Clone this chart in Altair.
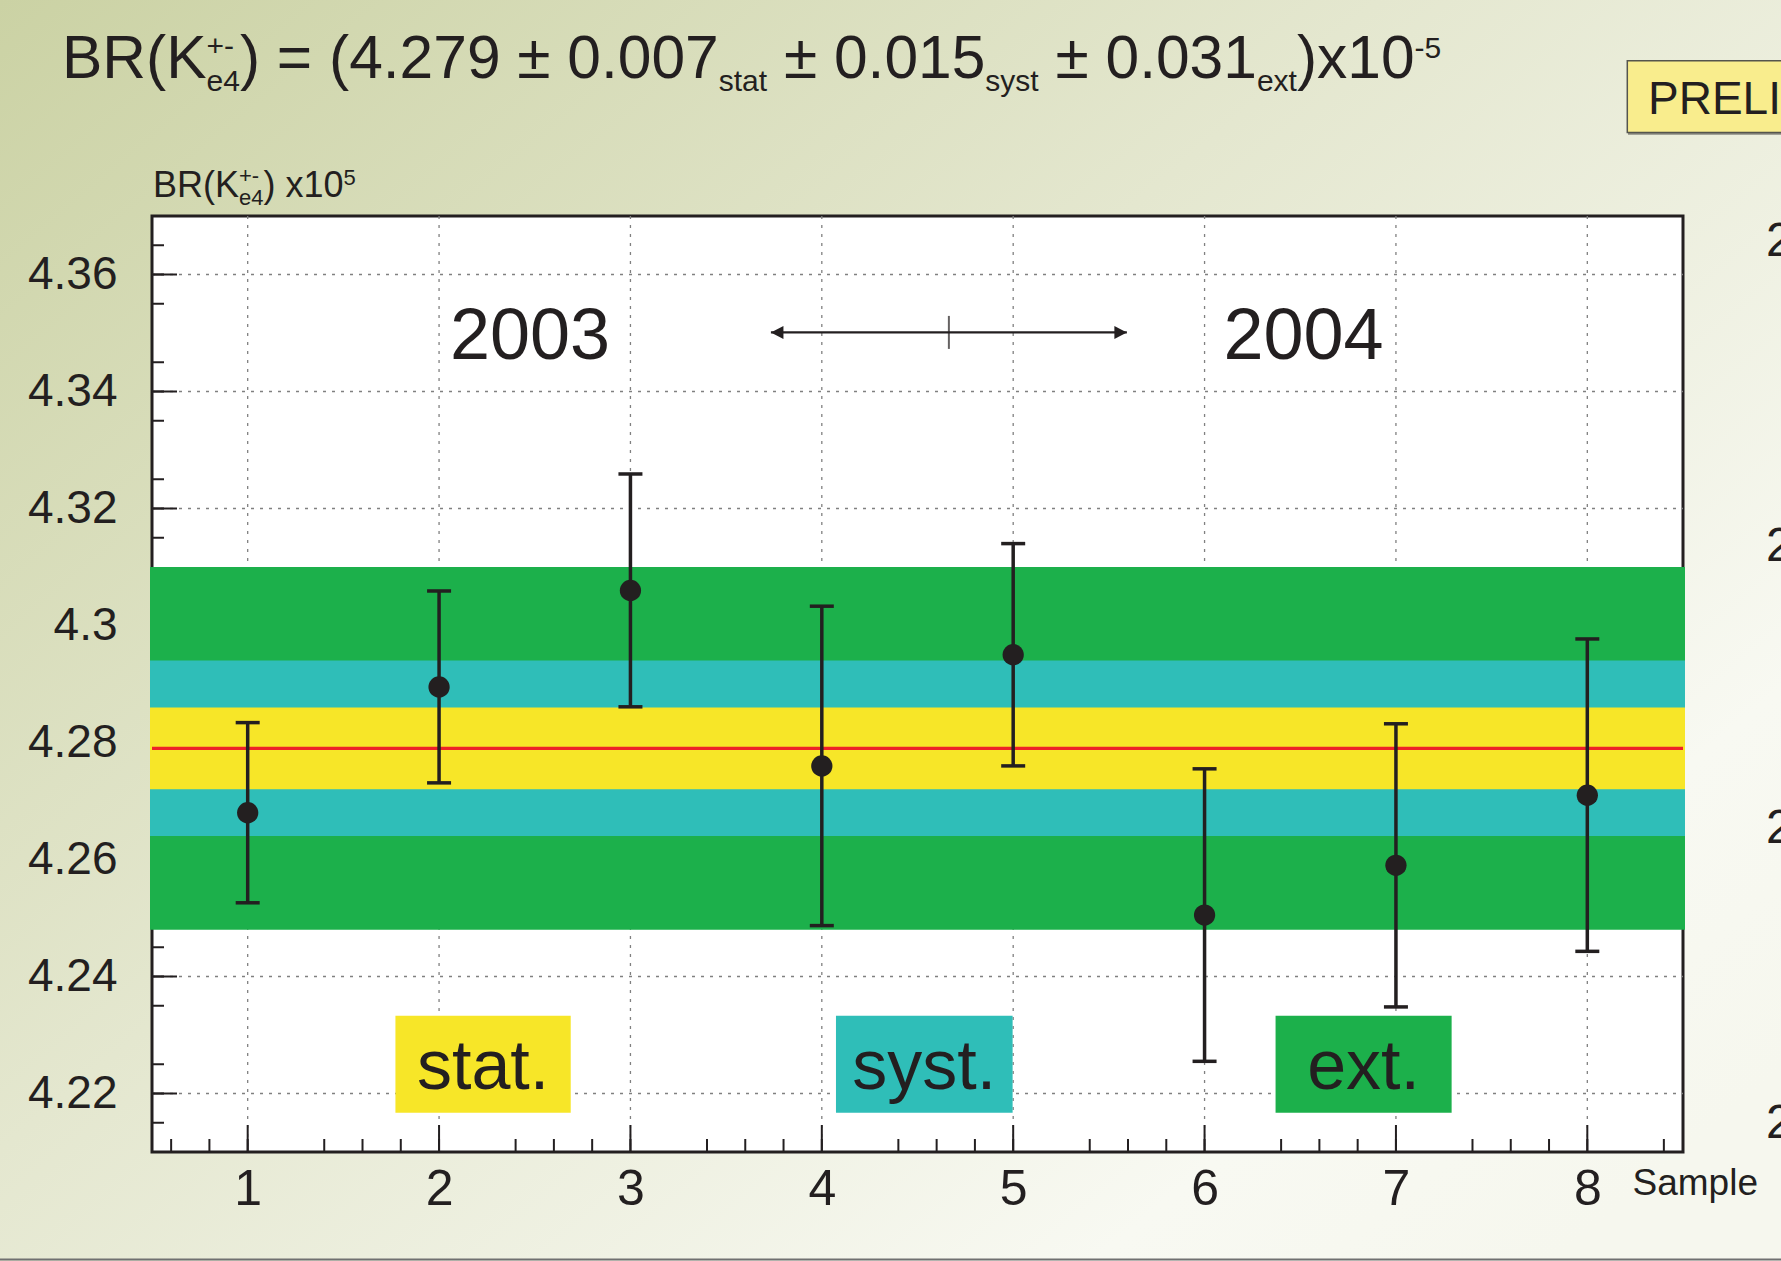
import altair as alt
import pandas as pd

# ---------------------------------------------------------------- data
samples = [1, 2, 3, 4, 5, 6, 7, 8]
br_values = [4.268, 4.2895, 4.306, 4.276, 4.295, 4.2505, 4.259, 4.271]
br_errors = [0.0154, 0.0164, 0.0199, 0.0273, 0.019, 0.025, 0.0242, 0.0267]

# combined result: central value and its three uncertainties
br_central = 4.279
band_names = ["ext.", "syst.", "stat."]
band_half_widths = [0.031, 0.015, 0.007]
band_colors = ["#1cb04b", "#2fbeb8", "#f7e628"]

# legend boxes, years and the 2003 / 2004 divider (sample-axis units)
legend_labels = ["stat.", "syst.", "ext."]
legend_left = [1.772, 4.074, 6.371]
legend_right = [2.688, 4.997, 7.291]
legend_bottom, legend_top, legend_text_y = 4.2167, 4.2333, 4.2208
years = ["2003", "2004"]
year_x = [2.475, 6.517]
year_y = 4.3456
arrow_ends = [3.734, 5.594]
arrow_mid = 4.664
arrow_y = 4.3501

# axes
x_major = [1, 2, 3, 4, 5, 6, 7, 8]
x_minor = [round(0.6 + 0.2 * i, 1) for i in range(40) if (i + 2) % 5 != 0]
y_major = [4.22, 4.24, 4.26, 4.28, 4.30, 4.32, 4.34, 4.36]
y_minor = [round(4.215 + 0.005 * i, 3) for i in range(31) if (i + 1) % 4 != 0]

# ---------------------------------------------------------------- style
FONT = "Liberation Sans"
INK = "#231f20"
W, H = 1531, 936
PAD = {"left": 152, "top": 216, "right": 98, "bottom": 109}

xs = alt.Scale(domain=[0.5, 8.5], nice=False, zero=False)
ys = alt.Scale(domain=[4.21, 4.37], nice=False, zero=False)
x_axis = alt.Axis(values=x_major, format="d", title=None, grid=False, ticks=False,
                  tickSize=0, domain=False, labelFont=FONT, labelFontSize=50,
                  labelColor=INK, labelPadding=52, labelBaseline="alphabetic",
                  labelFlush=False, zindex=1)
y_axis = alt.Axis(values=y_major, format=".2~f", title=None, grid=False, ticks=False,
                  tickSize=0, domain=False, labelFont=FONT, labelFontSize=46,
                  labelColor=INK, labelPadding=35, labelFlush=False, zindex=1)


def X(field):
    return alt.X(field, scale=xs, axis=x_axis)


def Y(field):
    return alt.Y(field, scale=ys, axis=y_axis)


one = pd.DataFrame({"k": [0]})

# ------------------------------------------------------- page furniture
page_bg = alt.Chart(one).mark_rect(
    color=alt.LinearGradient(
        gradient="linear", x1=0, y1=0, x2=1, y2=0.85,
        stops=[alt.GradientStop(color="#cbd2a4", offset=0),
               alt.GradientStop(color="#e4e7cf", offset=0.45),
               alt.GradientStop(color="#f8f9f2", offset=0.85),
               alt.GradientStop(color="#f6f7ee", offset=1)])
).encode(x=alt.value(-PAD["left"]), x2=alt.value(W + PAD["right"]),
         y=alt.value(-PAD["top"]), y2=alt.value(H + PAD["bottom"]))

bottom_line = alt.Chart(one).mark_rule(color="#707070", strokeWidth=2).encode(
    x=alt.value(-PAD["left"]), x2=alt.value(W + PAD["right"]), y=alt.value(1043.5))

prelim_shadow = alt.Chart(one).mark_rule(color="#8a8a80", strokeWidth=2.5).encode(
    x=alt.value(1476), x2=alt.value(1700), y=alt.value(-82.5))
prelim_box = alt.Chart(one).mark_rect(fill="#f9ed8d", stroke="#55554d", strokeWidth=1.5).encode(
    x=alt.value(1475.3), x2=alt.value(1700), y=alt.value(-155.3), y2=alt.value(-83.5))

frame = alt.Chart(one).mark_rect(fill="white", stroke=INK, strokeWidth=3).encode(
    x=alt.value(0), x2=alt.value(W), y=alt.value(0), y2=alt.value(H))

grid_kw = dict(color="#808080", strokeWidth=1.3, strokeDash=[3, 6])
grid_x = alt.Chart(pd.DataFrame({"v": x_major})).mark_rule(**grid_kw).encode(
    x=X("v:Q"), y=alt.value(0), y2=alt.value(H))
grid_y = alt.Chart(pd.DataFrame({"v": y_major})).mark_rule(**grid_kw).encode(
    y=Y("v:Q"), x=alt.value(0), x2=alt.value(W))

tick_kw = dict(color=INK, strokeWidth=2)
ticks = [
    alt.Chart(pd.DataFrame({"v": y_major})).mark_rule(**tick_kw).encode(
        y=Y("v:Q"), x=alt.value(0), x2=alt.value(25)),
    alt.Chart(pd.DataFrame({"v": y_minor})).mark_rule(**tick_kw).encode(
        y=Y("v:Q"), x=alt.value(0), x2=alt.value(12)),
    alt.Chart(pd.DataFrame({"v": x_major})).mark_rule(**tick_kw).encode(
        x=X("v:Q"), y=alt.value(H), y2=alt.value(H - 27)),
    alt.Chart(pd.DataFrame({"v": x_minor})).mark_rule(**tick_kw).encode(
        x=X("v:Q"), y=alt.value(H), y2=alt.value(H - 13)),
]

# ------------------------------------------------- uncertainty bands
band_scale = alt.Scale(domain=band_names, range=band_colors)
bands = alt.Chart(pd.DataFrame({"band": band_names, "half": band_half_widths})).transform_calculate(
    lo=f"{br_central} - datum.half", hi=f"{br_central} + datum.half"
).mark_rect().encode(
    x=alt.value(-2), x2=alt.value(W + 2), y=Y("lo:Q"), y2="hi:Q",
    color=alt.Color("band:N", scale=band_scale, legend=None))

central = alt.Chart(pd.DataFrame({"c": [br_central]})).mark_rule(
    color="#ee2227", strokeWidth=3.4).encode(y=Y("c:Q"), x=alt.value(0), x2=alt.value(W))

# ------------------------------------------------------------ legend
legend_df = pd.DataFrame({"band": legend_labels, "x0": legend_left, "x1": legend_right})
legend_boxes = alt.Chart(legend_df).transform_calculate(
    y0=str(legend_bottom), y1=str(legend_top)
).mark_rect().encode(
    x=X("x0:Q"), x2="x1:Q", y=Y("y0:Q"), y2="y1:Q",
    color=alt.Color("band:N", scale=band_scale, legend=None))
legend_text = alt.Chart(legend_df).transform_calculate(
    xc="(datum.x0 + datum.x1) / 2", yt=str(legend_text_y)
).mark_text(font=FONT, fontSize=70, color=INK, align="center", baseline="alphabetic").encode(
    x=X("xc:Q"), y=Y("yt:Q"), text="band:N")

# ------------------------------------------------- years and divider
year_text = alt.Chart(pd.DataFrame({"year": years, "x": year_x})).transform_calculate(
    y=str(year_y)
).mark_text(font=FONT, fontSize=72, color=INK, align="center", baseline="alphabetic").encode(
    x=X("x:Q"), y=Y("y:Q"), text="year:N")

arrow_df = pd.DataFrame({"x0": [arrow_ends[0]], "x1": [arrow_ends[1]], "xm": [arrow_mid], "y": [arrow_y]})
arrow_line = alt.Chart(arrow_df).mark_rule(color=INK, strokeWidth=2.2).encode(
    x=X("x0:Q"), x2="x1:Q", y=Y("y:Q"))
arrow_tick = alt.Chart(arrow_df).mark_tick(color=INK, orient="vertical", size=33, thickness=2).encode(
    x=X("xm:Q"), y=Y("y:Q"))
head_kw = dict(color=INK, filled=True, opacity=1, size=625, strokeWidth=0)
arrow_left = alt.Chart(arrow_df).mark_point(shape="M0,0L1,-0.52L1,0.52Z", **head_kw).encode(
    x=X("x0:Q"), y=Y("y:Q"))
arrow_right = alt.Chart(arrow_df).mark_point(shape="M0,0L-1,-0.52L-1,0.52Z", **head_kw).encode(
    x=X("x1:Q"), y=Y("y:Q"))

# ------------------------------------------------------ measurements
meas = alt.Chart(pd.DataFrame({"sample": samples, "br": br_values, "err": br_errors})).transform_calculate(
    lo="datum.br - datum.err", hi="datum.br + datum.err")
err_bars = meas.mark_rule(color=INK, strokeWidth=3.5).encode(x=X("sample:Q"), y=Y("lo:Q"), y2="hi:Q")
cap_kw = dict(color=INK, orient="horizontal", size=24, thickness=3.5, opacity=1)
caps_lo = meas.mark_tick(**cap_kw).encode(x=X("sample:Q"), y=Y("lo:Q"))
caps_hi = meas.mark_tick(**cap_kw).encode(x=X("sample:Q"), y=Y("hi:Q"))
points = meas.mark_circle(color=INK, size=452, opacity=1).encode(x=X("sample:Q"), y=Y("br:Q"))

# --------------------------------------------- typeset header texts
ADV = {" ": 278, "(": 333, ")": 333, "+": 584, "-": 333, ".": 278, "=": 584,
       "\u00b1": 549, "B": 667, "K": 667, "R": 722, "a": 556, "e": 556, "s": 500, "t": 278,
       "x": 500, "y": 500}
ADV.update({d: 556 for d in "0123456789"})


def text_width(s, size):
    return sum(ADV[c] for c in s) * size / 1000.0


def typeset(parts, x, y):
    """Lay out runs of text (with sub/superscripts) left to right.

    Leading blanks are turned into a shift of the run, since the renderer
    drops blanks at the ends of a text element."""
    rows = []
    for part in parts:
        group = part if isinstance(part[0], tuple) else (part,)
        width = 0.0
        for text, size, dy in group:
            body = text.lstrip(" ")
            lead = text_width(text[: len(text) - len(body)], size)
            rows.append({"t": body, "px": x + lead - PAD["left"],
                         "py": y + dy - PAD["top"], "fs": size})
            width = max(width, text_width(text, size))
        x += width
    return rows


stat_e, syst_e, ext_e = band_half_widths[2], band_half_widths[1], band_half_widths[0]
T, S = 60.5, 30
title_parts = [
    ("BR(K", T, 0), (("+-", S, -22), ("e4", S, 13)),
    (f") = ({br_central:.3f} \u00b1 {stat_e:.3f}", T, 0), ("stat", S, 13),
    (f" \u00b1 {syst_e:.3f}", T, 0), ("syst", S, 13),
    (f" \u00b1 {ext_e:.3f}", T, 0), ("ext", S, 13),
    (")x10", T, 0), ("-5", S, -20),
]
A, a = 36, 22
ytitle_parts = [("BR(K", A, 0), (("+-", a, -14), ("e4", a, 8)), (") x10", A, 0), ("5", a, -12)]

rows = typeset(title_parts, 62, 78) + typeset(ytitle_parts, 153, 197)
rows += [
    {"t": "Sample", "px": 1480.5, "py": 979, "fs": 37},
    {"t": "PRELIMINARY", "px": 1496, "py": -102, "fs": 46},
]
# edge of the next panel's axis labels
rows += [{"t": "2", "px": 1614, "py": v, "fs": 48} for v in (39.5, 344.6, 627, 922)]

page_text = alt.Chart(pd.DataFrame(rows)).mark_text(
    font=FONT, color=INK, align="left", baseline="alphabetic"
).encode(
    x=alt.X("px:Q", scale=None, axis=None),
    y=alt.Y("py:Q", scale=None, axis=None),
    size=alt.Size("fs:Q", scale=None, legend=None),
    text="t:N",
)

chart = alt.layer(
    page_bg, bottom_line, prelim_shadow, prelim_box, frame, grid_x, grid_y, *ticks,
    bands, central, legend_boxes, legend_text, year_text,
    arrow_line, arrow_tick, arrow_left, arrow_right,
    err_bars, caps_lo, caps_hi, points, page_text,
).properties(
    width=W, height=H, padding=PAD, autosize=alt.AutoSizeParams(type="none"),
).configure_view(stroke=None)

chart.save("out.html", embed_options={"renderer": "svg", "actions": False})
